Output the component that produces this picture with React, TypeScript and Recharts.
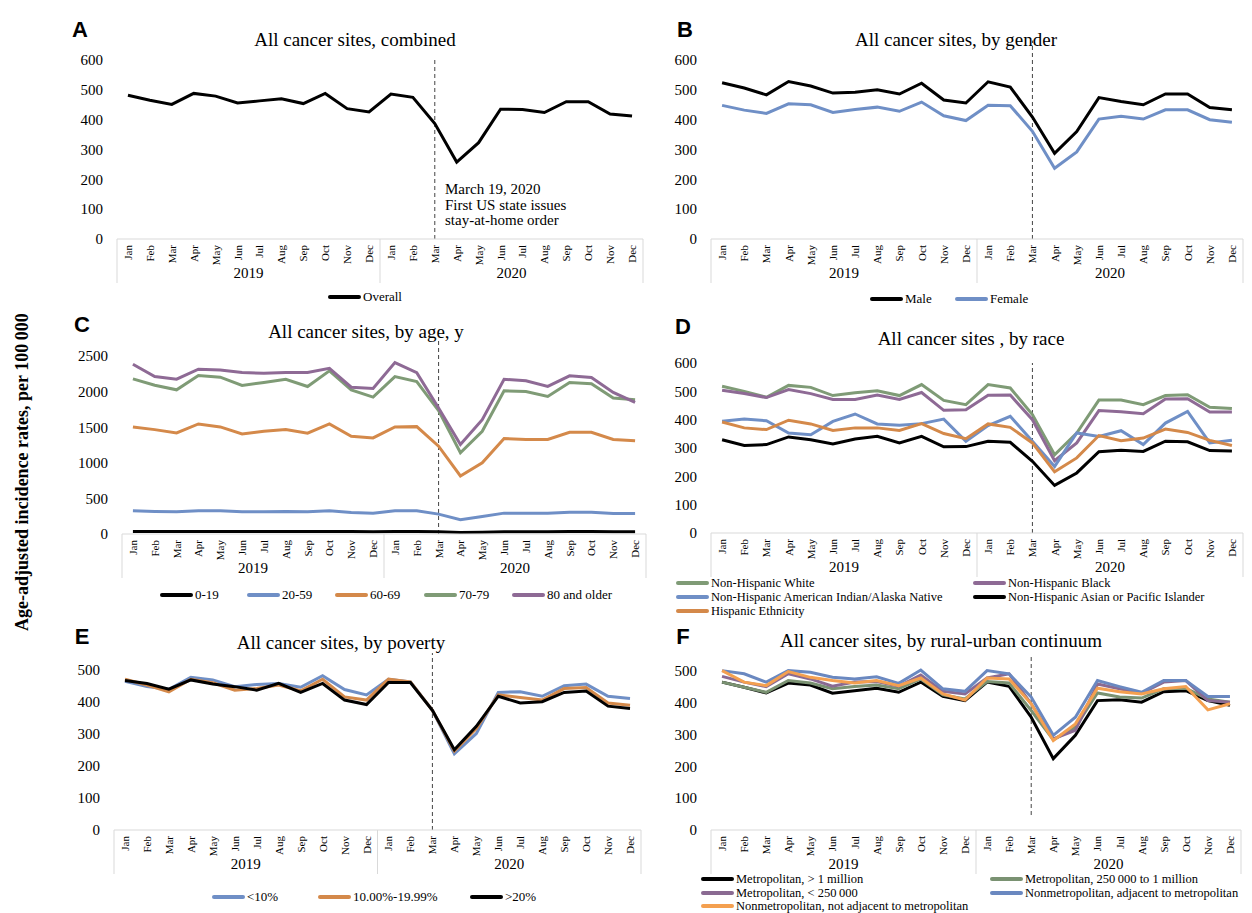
import React from "react";
import { LineChart, Line, XAxis, YAxis, ReferenceLine } from "recharts";

const MONTHS = ["Jan", "Feb", "Mar", "Apr", "May", "Jun", "Jul", "Aug", "Sep", "Oct", "Nov", "Dec"];
const YEARS = ["2019", "2020"];
const STAY_HOME = "Mar 2020";

// A
const OVERALL = [482, 465, 451, 488, 479, 456, 463, 470, 454, 488, 437, 426, 486, 475, 387, 258, 323, 435, 434, 424, 460, 460, 419, 412];
// B
const MALE = [524, 506, 483, 528, 513, 489, 492, 500, 486, 522, 466, 456, 527, 509, 409, 287, 360, 474, 461, 450, 486, 486, 441, 433];
const FEMALE = [448, 432, 421, 453, 450, 424, 434, 442, 428, 459, 413, 397, 448, 447, 361, 237, 292, 402, 411, 402, 433, 433, 400, 391];
// C
const AGE_0_19 = [36, 35, 35, 36, 36, 35, 35, 35, 35, 36, 34, 33, 36, 35, 30, 20, 25, 33, 33, 33, 34, 34, 33, 33];
const AGE_20_59 = [326, 317, 312, 326, 326, 312, 312, 317, 312, 326, 303, 293, 326, 326, 279, 200, 247, 293, 293, 293, 307, 307, 289, 289];
const AGE_60_69 = [1504, 1466, 1420, 1546, 1504, 1406, 1443, 1466, 1415, 1546, 1373, 1350, 1504, 1508, 1234, 815, 1001, 1341, 1327, 1327, 1429, 1429, 1327, 1308];
const AGE_70_79 = [2179, 2090, 2025, 2225, 2202, 2086, 2128, 2174, 2072, 2291, 2025, 1923, 2211, 2142, 1732, 1141, 1443, 2011, 2002, 1932, 2128, 2109, 1909, 1886];
const AGE_80 = [2384, 2211, 2174, 2314, 2304, 2267, 2258, 2267, 2267, 2328, 2062, 2044, 2407, 2267, 1769, 1257, 1606, 2174, 2151, 2072, 2221, 2197, 1988, 1848];
// D
const NH_WHITE = [518, 500, 479, 521, 514, 485, 495, 502, 485, 524, 468, 453, 524, 512, 418, 276, 353, 469, 469, 453, 485, 488, 444, 439];
const NH_BLACK = [504, 492, 478, 506, 492, 471, 471, 487, 471, 496, 433, 435, 486, 487, 400, 255, 318, 432, 428, 421, 473, 474, 427, 427];
const NH_AIAN = [394, 402, 396, 353, 347, 394, 420, 385, 380, 386, 402, 324, 379, 412, 324, 235, 353, 341, 361, 312, 388, 429, 318, 327];
const NH_API = [329, 309, 312, 339, 329, 314, 332, 341, 318, 341, 304, 305, 324, 320, 253, 168, 212, 287, 292, 288, 324, 322, 291, 289];
const HISPANIC = [392, 371, 365, 398, 385, 362, 371, 371, 362, 386, 351, 333, 385, 373, 318, 216, 265, 344, 326, 335, 367, 355, 327, 309];
// E
const POV_LT10 = [465, 448, 440, 477, 469, 448, 455, 458, 446, 482, 439, 422, 471, 463, 374, 238, 301, 430, 432, 418, 451, 456, 418, 411];
const POV_10_20 = [471, 453, 432, 471, 460, 437, 442, 453, 435, 471, 416, 406, 472, 463, 374, 247, 317, 422, 414, 406, 442, 445, 397, 390];
const POV_GT20 = [467, 458, 440, 469, 456, 448, 437, 458, 430, 458, 406, 392, 461, 461, 374, 251, 324, 418, 397, 401, 430, 434, 387, 380];
// F
const METRO_1M = [464, 448, 430, 461, 455, 429, 437, 445, 432, 464, 419, 406, 464, 451, 354, 224, 297, 406, 409, 401, 434, 437, 406, 391];
const METRO_250K = [464, 448, 432, 469, 461, 443, 450, 455, 443, 474, 424, 411, 466, 461, 375, 283, 323, 430, 417, 414, 443, 445, 411, 401];
const METRO_SMALL = [482, 464, 450, 490, 474, 451, 464, 466, 451, 486, 435, 427, 477, 490, 396, 286, 313, 458, 443, 429, 464, 469, 406, 401];
const NONMETRO_ADJ = [500, 490, 464, 500, 495, 479, 474, 481, 460, 502, 443, 435, 500, 490, 417, 297, 354, 469, 450, 432, 469, 469, 419, 419];
const NONMETRO_NOT = [500, 464, 453, 497, 479, 469, 461, 469, 453, 477, 427, 408, 477, 474, 396, 281, 333, 445, 434, 427, 443, 450, 377, 396];

const SERIF = "'Liberation Serif', 'Times New Roman', serif";
const SANS = "'Liberation Sans', Arial, sans-serif";
const GRID = "#d9d9d9";

type Series = { key: string; name: string; color: string; values: number[] };
type Panel = {
  letter: string;
  letterPos: [number, number];
  title: string;
  titlePos: [number, number];
  box: { l: number; r: number; t: number; b: number };
  max: number;
  ticks: number[];
  dash: [number, number];
  series: Series[];
  legendFont: number;
  legend: { key: string; x: number; y: number }[];
};

const PANELS: Panel[] = [
  {
    letter: "A", letterPos: [80, 30], title: "All cancer sites, combined", titlePos: [355, 40],
    box: { l: 117, r: 643, t: 60, b: 239 }, max: 600, ticks: [0, 100, 200, 300, 400, 500, 600], dash: [0, 600],
    series: [{ key: "overall", name: "Overall", color: "#000", values: OVERALL }],
    legendFont: 13,
    legend: [{ key: "overall", x: 328, y: 297 }],
  },
  {
    letter: "B", letterPos: [685, 30], title: "All cancer sites, by gender", titlePos: [956, 40],
    box: { l: 711, r: 1243, t: 60, b: 239 }, max: 600, ticks: [0, 100, 200, 300, 400, 500, 600], dash: [0, 665],
    series: [
      { key: "male", name: "Male", color: "#000", values: MALE },
      { key: "female", name: "Female", color: "#6f8fc6", values: FEMALE },
    ],
    legendFont: 13,
    legend: [{ key: "male", x: 870, y: 299 }, { key: "female", x: 955, y: 299 }],
  },
  {
    letter: "C", letterPos: [82, 325], title: "All cancer sites, by age, y", titlePos: [366, 332],
    box: { l: 122, r: 646, t: 356, b: 534 }, max: 2500, ticks: [0, 500, 1000, 1500, 2000, 2500], dash: [0, 2720],
    series: [
      { key: "a0", name: "0-19", color: "#000", values: AGE_0_19 },
      { key: "a20", name: "20-59", color: "#6f8fc6", values: AGE_20_59 },
      { key: "a60", name: "60-69", color: "#d4894a", values: AGE_60_69 },
      { key: "a70", name: "70-79", color: "#7f9b76", values: AGE_70_79 },
      { key: "a80", name: "80 and older", color: "#8e6a95", values: AGE_80 },
    ],
    legendFont: 13,
    legend: [
      { key: "a0", x: 160, y: 595 }, { key: "a20", x: 247, y: 595 }, { key: "a60", x: 335, y: 595 },
      { key: "a70", x: 424, y: 595 }, { key: "a80", x: 512, y: 595 },
    ],
  },
  {
    letter: "D", letterPos: [683, 327], title: "All cancer sites , by race", titlePos: [971, 339],
    box: { l: 711, r: 1243, t: 363, b: 533 }, max: 600, ticks: [0, 100, 200, 300, 400, 500, 600], dash: [0, 600],
    series: [
      { key: "white", name: "Non-Hispanic White", color: "#7f9b76", values: NH_WHITE },
      { key: "black", name: "Non-Hispanic Black", color: "#8e6a95", values: NH_BLACK },
      { key: "aian", name: "Non-Hispanic American Indian/Alaska Native", color: "#6f8fc6", values: NH_AIAN },
      { key: "api", name: "Non-Hispanic Asian or Pacific Islander", color: "#000", values: NH_API },
      { key: "hisp", name: "Hispanic Ethnicity", color: "#d4894a", values: HISPANIC },
    ],
    legendFont: 12.5,
    legend: [
      { key: "white", x: 676, y: 583 }, { key: "black", x: 973, y: 583 },
      { key: "aian", x: 676, y: 597 }, { key: "api", x: 973, y: 597 },
      { key: "hisp", x: 676, y: 611 },
    ],
  },
  {
    letter: "E", letterPos: [82, 637], title: "All cancer sites, by poverty", titlePos: [341, 643],
    box: { l: 114, r: 641, t: 670, b: 830 }, max: 500, ticks: [0, 100, 200, 300, 400, 500], dash: [0, 553],
    series: [
      { key: "p1", name: "<10%", color: "#6f8fc6", values: POV_LT10 },
      { key: "p2", name: "10.00%-19.99%", color: "#d4894a", values: POV_10_20 },
      { key: "p3", name: ">20%", color: "#000", values: POV_GT20 },
    ],
    legendFont: 13,
    legend: [{ key: "p1", x: 212, y: 897 }, { key: "p2", x: 318, y: 897 }, { key: "p3", x: 470, y: 897 }],
  },
  {
    letter: "F", letterPos: [683, 637], title: "All cancer sites, by rural-urban continuum", titlePos: [941, 641],
    box: { l: 711, r: 1241, t: 670, b: 830 }, max: 500, ticks: [0, 100, 200, 300, 400, 500], dash: [47, 547],
    series: [
      { key: "m1", name: "Metropolitan, > 1 million", color: "#000", values: METRO_1M },
      { key: "m2", name: "Metropolitan, 250\u2009000 to 1 million", color: "#7a9272", values: METRO_250K },
      { key: "m3", name: "Metropolitan, < 250\u2009000", color: "#8a6a92", values: METRO_SMALL },
      { key: "m4", name: "Nonmetropolitan, adjacent to metropolitan", color: "#6a88c0", values: NONMETRO_ADJ },
      { key: "m5", name: "Nonmetropolitan, not adjacent to metropolitan", color: "#f4a050", values: NONMETRO_NOT },
    ],
    legendFont: 12.5,
    legend: [
      { key: "m1", x: 701, y: 879 }, { key: "m2", x: 990, y: 879 },
      { key: "m3", x: 701, y: 893 }, { key: "m4", x: 990, y: 893 },
      { key: "m5", x: 701, y: 906 },
    ],
  },
];

function buildRows(series: Series[]) {
  return YEARS.flatMap((yr, yi) =>
    MONTHS.map((m, mi) => {
      const row: Record<string, string | number> = { key: `${m} ${yr}` };
      series.forEach((s) => (row[s.key] = s.values[yi * 12 + mi]));
      return row;
    })
  );
}

const YW = 60;
const MT = 40;
const MR = 6;

function PanelChart({ p }: { p: Panel }) {
  const plotW = p.box.r - p.box.l;
  const plotH = p.box.b - p.box.t;
  const band = plotW / 24;
  const data = buildRows(p.series);
  const axisY = MT + plotH;

  const monthTick = (props: any) => {
    const { x, index, payload } = props;
    const label = String(payload.value).split(" ")[0];
    return (
      <g>
        <text
          transform={`translate(${x},${axisY + 6}) rotate(-90)`}
          textAnchor="end"
          dominantBaseline="central"
          fontSize={11}
          fontFamily={SERIF}
          fill="#000"
        >
          {label}
        </text>
        {(index === 0 || index === 12) && (
          <line x1={x - band / 2} x2={x - band / 2} y1={axisY} y2={axisY + 44} stroke={GRID} />
        )}
        {index === 23 && <line x1={x + band / 2} x2={x + band / 2} y1={axisY} y2={axisY + 44} stroke={GRID} />}
        {(index === 5 || index === 17) && (
          <text x={x + band / 2} y={axisY + 39} textAnchor="middle" fontSize={15} fontFamily={SERIF} fill="#000">
            {YEARS[index === 5 ? 0 : 1]}
          </text>
        )}
      </g>
    );
  };

  return (
    <div style={{ position: "absolute", left: p.box.l - YW, top: p.box.t - MT }}>
      <LineChart
        width={plotW + YW + MR}
        height={MT + plotH + 50}
        data={data}
        margin={{ top: MT, right: MR, left: 0, bottom: 0 }}
      >
        <XAxis
          dataKey="key"
          interval={0}
          height={50}
          padding={{ left: band / 2, right: band / 2 }}
          tick={monthTick}
          tickLine={false}
          axisLine={{ stroke: GRID }}
        />
        <YAxis
          type="number"
          domain={[0, p.max]}
          ticks={p.ticks}
          interval={0}
          width={YW}
          tickLine={false}
          axisLine={false}
          tickMargin={8}
          tick={{ fontSize: 15, fontFamily: SERIF, fill: "#000" }}
        />
        <ReferenceLine
          segment={[
            { x: STAY_HOME, y: p.dash[0] },
            { x: STAY_HOME, y: p.dash[1] },
          ]}
          ifOverflow="visible"
          stroke="#444"
          strokeDasharray="4 3"
          strokeWidth={1}
        />
        {p.series.map((s) => (
          <Line
            key={s.key}
            dataKey={s.key}
            name={s.name}
            stroke={s.color}
            strokeWidth={3}
            dot={false}
            type="linear"
            isAnimationActive={false}
          />
        ))}
      </LineChart>
    </div>
  );
}

function PanelLegend({ p }: { p: Panel }) {
  return (
    <>
      {p.legend.map((item) => {
        const s = p.series.find((x) => x.key === item.key)!;
        return (
          <div
            key={item.key}
            style={{
              position: "absolute",
              left: item.x,
              top: item.y - 6,
              height: 12,
              display: "flex",
              alignItems: "center",
              whiteSpace: "nowrap",
              fontFamily: SERIF,
              fontSize: p.legendFont,
              lineHeight: "12px",
            }}
          >
            <span style={{ display: "inline-block", width: 33, height: 4, background: s.color, borderRadius: 2, marginRight: 2 }} />
            <span>{s.name}</span>
          </div>
        );
      })}
    </>
  );
}

export default function App() {
  return (
    <div style={{ position: "absolute", left: 0, top: 0, width: 1252, height: 913, background: "#fff", overflow: "hidden" }}>
      {PANELS.map((p) => (
        <React.Fragment key={p.letter}>
          <PanelChart p={p} />
          <PanelLegend p={p} />
          <div
            style={{
              position: "absolute",
              left: p.letterPos[0] - 12,
              top: p.letterPos[1] - 13,
              width: 24,
              textAlign: "center",
              fontFamily: SANS,
              fontWeight: "bold",
              fontSize: 22,
              lineHeight: "26px",
            }}
          >
            {p.letter}
          </div>
          <div
            style={{
              position: "absolute",
              left: p.titlePos[0] - 250,
              top: p.titlePos[1] - 12,
              width: 500,
              textAlign: "center",
              fontFamily: SERIF,
              fontSize: 19,
              lineHeight: "24px",
            }}
          >
            {p.title}
          </div>
        </React.Fragment>
      ))}
      <div
        style={{
          position: "absolute",
          left: 445,
          top: 182,
          fontFamily: SERIF,
          fontSize: 15,
          lineHeight: "15.5px",
        }}
      >
        March 19, 2020
        <br />
        First US state issues
        <br />
        stay-at-home order
      </div>
      <div
        style={{
          position: "absolute",
          left: 22 - 250,
          top: 472 - 12,
          width: 500,
          height: 24,
          textAlign: "center",
          transform: "rotate(-90deg)",
          fontFamily: SERIF,
          fontWeight: "bold",
          fontSize: 18,
          lineHeight: "24px",
        }}
      >
        Age-adjusted incidence rates, per 100&#8201;000
      </div>
    </div>
  );
}
